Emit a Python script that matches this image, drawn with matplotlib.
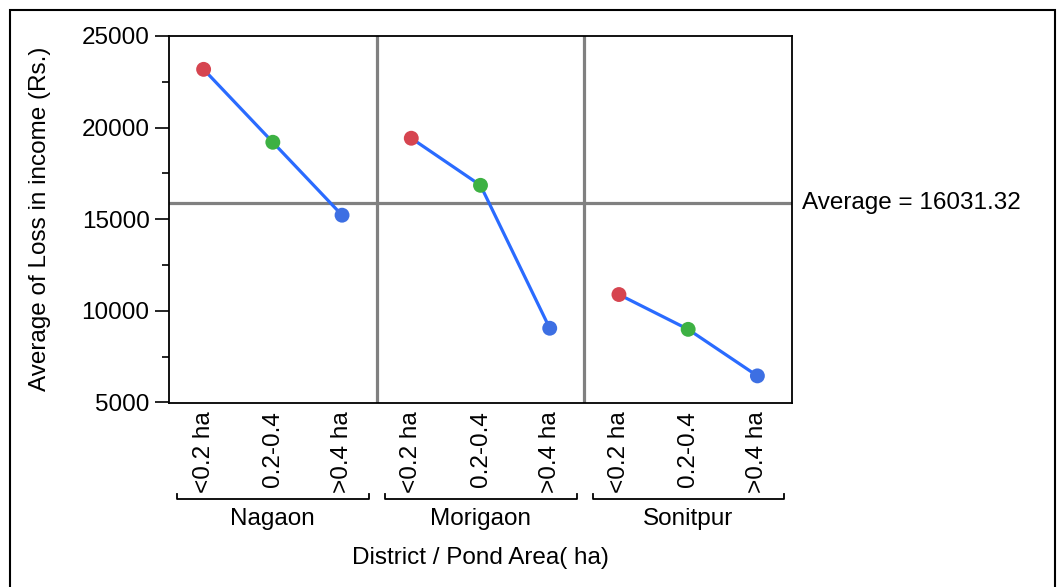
import matplotlib
matplotlib.use("Agg")
import matplotlib.pyplot as plt
import matplotlib.transforms as mtransforms
from matplotlib.patches import Rectangle

plt.rcParams['font.family'] = ['Liberation Sans', 'DejaVu Sans']

districts = ["Nagaon", "Morigaon", "Sonitpur"]
areas = ["<0.2 ha", "0.2-0.4", ">0.4 ha"]
values = {
    "Nagaon": [23180, 19200, 15220],
    "Morigaon": [19420, 16850, 9050],
    "Sonitpur": [10890, 8990, 6450],
}
average_value = 15870
average_label = "Average = 16031.32"
point_colors = ['#d64550', '#3db143', '#3d6fe3']
line_color = '#2a6bff'

W, H = 1061, 587
fig = plt.figure(figsize=(W / 100, H / 100), dpi=100)
ax = fig.add_axes([169 / W, 1 - 403 / H, 623 / W, 367 / H])

fs = 17.5
n = len(areas)
for gi, d in enumerate(districts):
    xs = [gi * n + i for i in range(n)]
    ax.plot(xs, values[d], color=line_color, lw=2.3, zorder=3)
    ax.scatter(xs, values[d], c=point_colors, s=115, zorder=4, edgecolors='none')

for gi in range(1, len(districts)):
    ax.axvline(gi * n - 0.5, color='#808080', lw=2.3, zorder=1)
ax.axhline(average_value, color='#808080', lw=2.3, zorder=1)

ax.set_xlim(-0.5, len(districts) * n - 0.5)
ax.set_ylim(4970, 25000)
ax.set_yticks([5000, 10000, 15000, 20000, 25000])
ax.set_yticks([7500, 12500, 17500, 22500], minor=True)
ax.tick_params(axis='y', which='major', length=10, width=1.2, labelsize=fs, pad=4)
ax.tick_params(axis='y', which='minor', length=5, width=1.2)
ax.set_xticks(range(len(districts) * n))
ax.set_xticklabels(areas * len(districts), rotation=90, fontsize=fs)
ax.tick_params(axis='x', length=0, pad=6)
for s in ax.spines.values():
    s.set_linewidth(1.3)

trans = mtransforms.blended_transform_factory(ax.transData, ax.transAxes)
for gi, d in enumerate(districts):
    x0 = gi * n - 0.38
    x1 = gi * n + n - 1 + 0.39
    yb = -0.262
    yt = -0.248
    ax.plot([x0, x0, x1, x1], [yt, yb, yb, yt], color='black', lw=1.3,
            transform=trans, clip_on=False)
    ax.text(gi * n + (n - 1) / 2, -0.316, d, transform=trans, ha='center',
            va='center', fontsize=fs)

ax.text(0.5, -0.422, "District / Pond Area( ha)", transform=ax.transAxes,
        ha='center', va='center', fontsize=fs)
ax.text(1.016, average_value, average_label,
        transform=mtransforms.blended_transform_factory(ax.transAxes, ax.transData),
        ha='left', va='center', fontsize=fs)

fig.text(40 / W, 1 - 219 / H, "Average of Loss in income (Rs.)", rotation=90,
         ha='center', va='center', fontsize=fs)

fig.patches.append(Rectangle((10 / W, -0.05), 1045 / W, 1 - 10 / H + 0.05,
                             transform=fig.transFigure, fill=False,
                             edgecolor='black', lw=1.5))

fig.savefig("out.png", dpi=100)
